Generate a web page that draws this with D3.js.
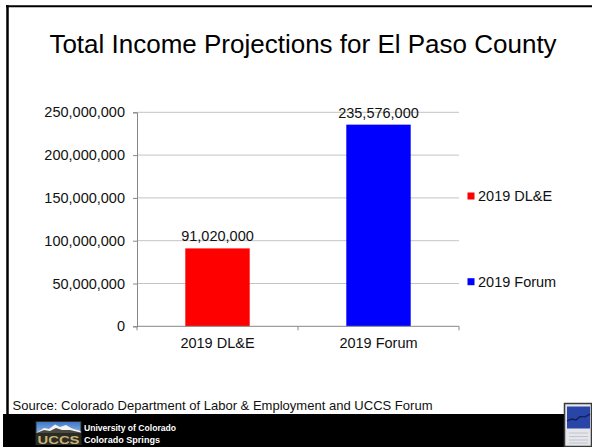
<!DOCTYPE html>
<html>
<head>
<meta charset="utf-8">
<script src="https://cdn.jsdelivr.net/npm/d3@7"></script>
<style>
  html, body { margin: 0; padding: 0; background: #fff; }
  svg { display: block; }
  text { font-family: "Liberation Sans", Arial, sans-serif; }
</style>
</head>
<body>
<svg id="chart" width="592" height="447"></svg>
<script>
const title = "Total Income Projections for El Paso County";
const categories = ["2019 DL&E", "2019 Forum"];
const values = [91020000, 235576000];
const colors = ["#ff0000", "#0000ff"];
const yTicks = [0, 50000000, 100000000, 150000000, 200000000, 250000000];
const source = "Source: Colorado Department of Labor & Employment and UCCS Forum";
const logoLines = ["University of Colorado", "Colorado Springs"];

const svg = d3.select("#chart");
const fmt = d3.format(",");

// slide frame
svg.append("rect").attr("x", 0).attr("y", 0).attr("width", 592).attr("height", 447).attr("fill", "#fff");
svg.append("line").attr("x1", 6).attr("x2", 592).attr("y1", 6.3).attr("y2", 6.3)
  .attr("stroke", "#000").attr("stroke-width", 2);
svg.append("line").attr("x1", 7.5).attr("x2", 7.5).attr("y1", 5.3).attr("y2", 415)
  .attr("stroke", "#000").attr("stroke-width", 2.5);

// title
svg.append("text").attr("x", 303).attr("y", 53).attr("text-anchor", "middle")
  .attr("font-size", 26).attr("fill", "#000").text(title);

// scales
const x = d3.scaleBand().domain(categories).range([137, 459]).paddingInner(0.6).paddingOuter(0.3);
const y = d3.scaleLinear().domain([0, 250000000]).range([326.3, 112.3]);

// gridlines
svg.append("g").selectAll("line").data(yTicks.slice(1)).join("line")
  .attr("x1", 137).attr("x2", 459)
  .attr("y1", d => y(d)).attr("y2", d => y(d))
  .attr("stroke", "#c4c4c4").attr("stroke-width", 1);

// y axis
const yAxis = svg.append("g").attr("transform", "translate(137,0)")
  .call(d3.axisLeft(y).tickValues(yTicks).tickFormat(fmt).tickSize(4).tickPadding(8));
yAxis.select(".domain").attr("stroke", "#888");
yAxis.selectAll(".tick line").attr("stroke", "#888");
yAxis.selectAll(".tick text").attr("font-size", 14.5).attr("fill", "#111")
  .attr("font-family", "Liberation Sans, Arial, sans-serif");

// bars
svg.append("g").selectAll("rect").data(values).join("rect")
  .attr("x", (d, i) => x(categories[i]))
  .attr("width", x.bandwidth())
  .attr("y", d => y(d))
  .attr("height", d => y(0) - y(d))
  .attr("fill", (d, i) => colors[i]);

// x axis
const xAxisG = svg.append("g");
xAxisG.append("line").attr("x1", 137).attr("x2", 459).attr("y1", y(0)).attr("y2", y(0))
  .attr("stroke", "#888");
const boundaries = [0, 1, 2].map(i => 137 + i * x.step());
xAxisG.selectAll("line.tk").data(boundaries).join("line").attr("class", "tk")
  .attr("x1", d => d).attr("x2", d => d).attr("y1", y(0)).attr("y2", y(0) + 4)
  .attr("stroke", "#888");
xAxisG.selectAll("text").data(categories).join("text")
  .attr("x", d => x(d) + x.bandwidth() / 2).attr("y", 348)
  .attr("text-anchor", "middle").attr("font-size", 14.5).attr("fill", "#111")
  .text(d => d);

// data labels
svg.append("g").selectAll("text").data(values).join("text")
  .attr("x", (d, i) => x(categories[i]) + x.bandwidth() / 2)
  .attr("y", d => y(d) - 7)
  .attr("text-anchor", "middle").attr("font-size", 14.5).attr("fill", "#111")
  .text(d => fmt(d));

// legend
const legendY = [196, 281.7];
const lg = svg.append("g");
categories.forEach((c, i) => {
  lg.append("rect").attr("x", 467.5).attr("y", legendY[i] - 3.5).attr("width", 7).attr("height", 7)
    .attr("fill", colors[i]);
  lg.append("text").attr("x", 478).attr("y", legendY[i]).attr("dy", "0.35em")
    .attr("font-size", 14.5).attr("fill", "#111").text(c);
});

// source
svg.append("text").attr("x", 12.5).attr("y", 410).attr("font-size", 13).attr("fill", "#111")
  .attr("textLength", 420).attr("lengthAdjust", "spacingAndGlyphs").text(source);

// bottom band
svg.append("rect").attr("x", 3).attr("y", 414).attr("width", 562).attr("height", 33).attr("fill", "#000");

// UCCS logo
const logo = svg.append("g");
const grad = svg.append("defs").append("linearGradient").attr("id", "sky")
  .attr("x1", 0).attr("y1", 0).attr("x2", 0).attr("y2", 1);
grad.append("stop").attr("offset", 0).attr("stop-color", "#3f78c8");
grad.append("stop").attr("offset", 1).attr("stop-color", "#8fb4e0");
logo.append("rect").attr("x", 35.5).attr("y", 421).attr("width", 46).attr("height", 24)
  .attr("fill", "#2b2b22");
logo.append("rect").attr("x", 36.5).attr("y", 422).attr("width", 44).attr("height", 11)
  .attr("fill", "url(#sky)");
logo.append("path")
  .attr("d", "M36.5,433 L44,428 L49,429 L55,424.5 L60,427 L66,425 L72,428.5 L80.5,431 L80.5,433 Z")
  .attr("fill", "#f4f4f4");
logo.append("path")
  .attr("d", "M36.5,433 L44,430 L50,431 L56,428 L62,430 L70,430 L80.5,432.5 L80.5,433 Z")
  .attr("fill", "#4a4a40");
logo.append("text").attr("x", 58.5).attr("y", 443.5).attr("text-anchor", "middle")
  .attr("font-size", 11).attr("font-weight", "bold").attr("fill", "#c8b27a")
  .attr("textLength", 42).attr("lengthAdjust", "spacingAndGlyphs").text("UCCS");
logo.append("text").attr("x", 84).attr("y", 431).attr("font-size", 9).attr("font-weight", "bold")
  .attr("fill", "#fff").attr("textLength", 92).attr("lengthAdjust", "spacingAndGlyphs").text(logoLines[0]);
logo.append("text").attr("x", 84).attr("y", 443).attr("font-size", 9).attr("font-weight", "bold")
  .attr("fill", "#fff").attr("textLength", 76).attr("lengthAdjust", "spacingAndGlyphs").text(logoLines[1]);

// small icon bottom right
const ic = svg.append("g");
ic.append("rect").attr("x", 564.5).attr("y", 403.5).attr("width", 27).attr("height", 43)
  .attr("fill", "#e4e6ea").attr("stroke", "#3a3a3a").attr("stroke-width", 1.5);
ic.append("rect").attr("x", 567).attr("y", 406.5).attr("width", 23).attr("height", 22)
  .attr("fill", "#2a45a8");
ic.append("path").attr("d", "M567,421 L572,419 L576,420 L580,416.5 L585,417 L590,414")
  .attr("fill", "none").attr("stroke", "#0b1a4a").attr("stroke-width", 1.2);
[433, 436.5, 440, 443].forEach(yy => {
  ic.append("line").attr("x1", 569).attr("x2", 588).attr("y1", yy).attr("y2", yy)
    .attr("stroke", "#b8bcc8").attr("stroke-width", 0.8);
});
</script>
</body>
</html>
